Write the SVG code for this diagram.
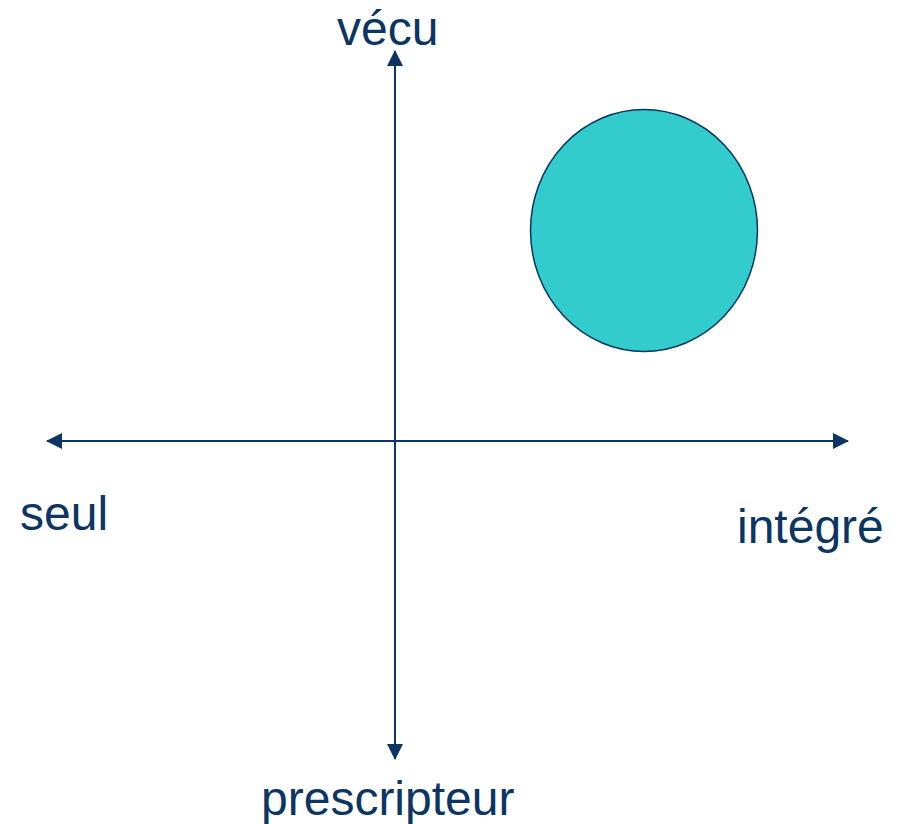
<svg xmlns="http://www.w3.org/2000/svg" width="904" height="824" viewBox="0 0 904 824">
<style>
.lbl{font-family:"Liberation Sans",Arial,sans-serif;font-size:48px;fill:#0b3563}
.ax{stroke:#0b3563;stroke-width:2;fill:none}
</style>
<defs>
<marker id="arr" viewBox="0 0 16 16" refX="15" refY="8" markerWidth="16" markerHeight="16" markerUnits="userSpaceOnUse" orient="auto">
<path d="M0,0 L16,8 L0,16 Z" fill="#0b3563"/>
</marker>
</defs>
<rect width="904" height="824" fill="#ffffff"/>
<g id="connectors">
<line class="ax" x1="395" y1="441" x2="395" y2="51" marker-end="url(#arr)"/>
<line class="ax" x1="395" y1="441" x2="395" y2="759" marker-end="url(#arr)"/>
<line class="ax" x1="395" y1="441" x2="47" y2="441" marker-end="url(#arr)"/>
<line class="ax" x1="395" y1="441" x2="848" y2="441" marker-end="url(#arr)"/>
</g>
<g id="circle">
<ellipse cx="644" cy="230.5" rx="113.5" ry="121" fill="#33cccc" stroke="#0b3563" stroke-width="1.5"/>
</g>
<g id="label-vecu"><text class="lbl" x="337" y="45">vécu</text></g>
<g id="label-seul"><text class="lbl" x="20" y="530">seul</text></g>
<g id="label-integre"><text class="lbl" x="737" y="543">intégré</text></g>
<g id="label-prescripteur"><text class="lbl" x="261" y="815">prescripteur</text></g>
</svg>
